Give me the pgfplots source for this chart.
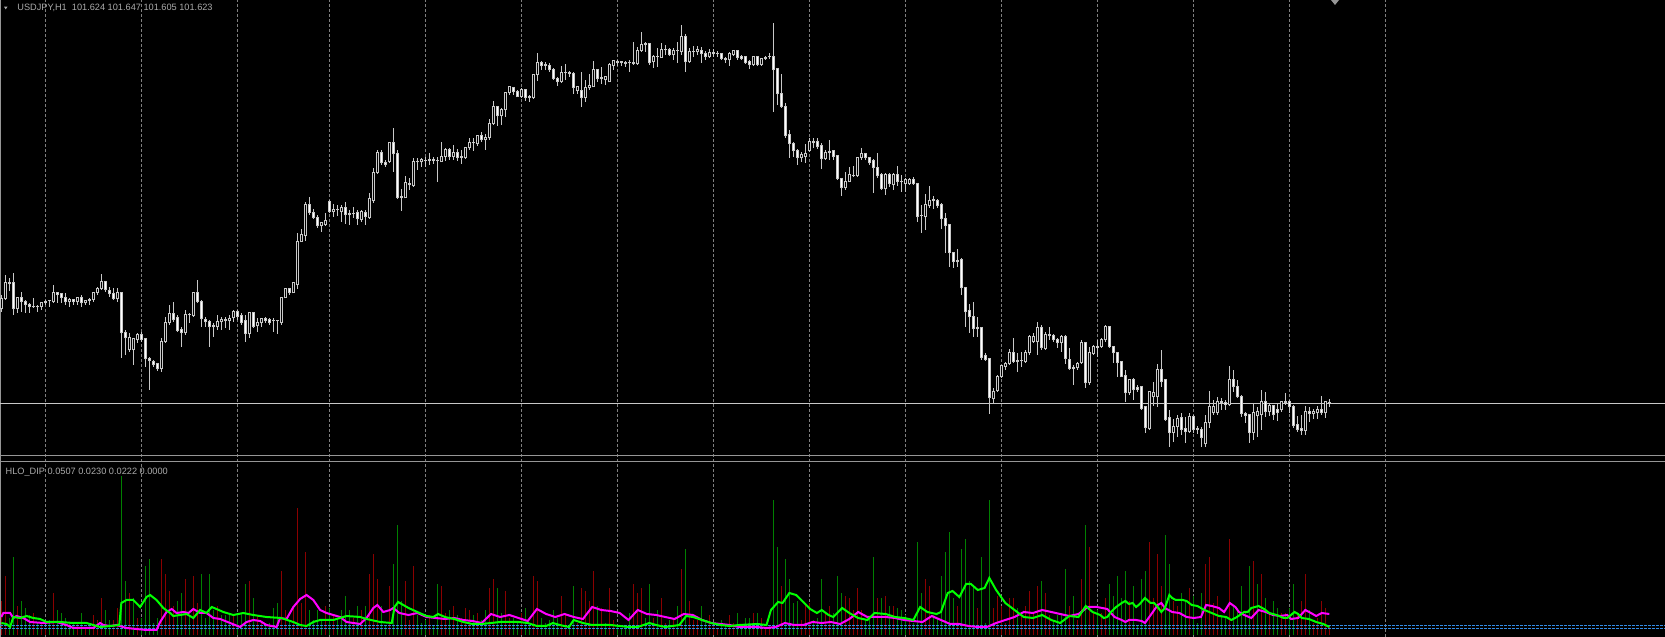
\documentclass[border=0pt]{standalone}
\usepackage{pgfplots}
\pgfplotsset{compat=1.18}
\usepackage{pgfplotstable}
\usepackage{fontspec}
\setmainfont{Liberation Sans}
\definecolor{wickc}{RGB}{200,200,200}
\definecolor{bodyw}{RGB}{255,255,255}
\definecolor{gridc}{RGB}{128,128,128}
\definecolor{sepc}{RGB}{150,150,150}
\definecolor{txtc}{RGB}{170,170,170}
\definecolor{histg}{RGB}{0,128,0}
\definecolor{histr}{RGB}{139,0,0}
\definecolor{lgreen}{RGB}{0,255,0}
\definecolor{lmag}{RGB}{255,0,255}
\definecolor{lvl}{RGB}{51,140,230}

% candles: bar index, open, high, low, close (depth below the top of the price pane, in pixels)
\pgfplotstableread{
i o h l c
0 309 295 312 299
1 299 275 300 283
2 284 278 291 283
3 283 273 315 309
4 309 297 313 298
5 298 292 312 302
6 302 300 313 305
7 305 303 313 307
8 307 298 308 307
9 307 305 312 307
10 307 302 310 303
11 303 300 305 302
12 301 300 307 301
13 302 285 303 293
14 293 293 303 295
15 294 293 303 298
16 298 293 305 302
17 302 298 307 300
18 300 299 305 302
19 302 297 305 298
20 298 295 307 303
21 303 300 305 301
22 301 298 305 300
23 300 292 302 293
24 293 287 295 289
25 289 274 290 282
26 282 281 292 290
27 291 287 297 294
28 294 288 300 299
29 299 288 302 293
30 293 293 358 333
31 333 330 355 338
32 350 333 352 338
33 350 338 365 339
34 340 333 343 335
35 335 332 342 340
36 339 338 367 359
37 359 357 390 361
38 362 360 367 365
39 364 363 371 369
40 369 338 372 342
41 342 317 343 323
42 323 305 325 314
43 314 302 322 320
44 318 315 332 331
45 330 327 347 333
46 333 310 335 315
47 315 313 323 315
48 316 292 317 293
49 293 280 303 302
50 302 300 327 319
51 320 317 327 322
52 322 320 347 327
53 327 323 337 326
54 327 315 330 322
55 322 317 330 320
56 320 317 328 321
57 321 315 330 319
58 318 310 322 312
59 312 310 320 317
60 316 313 325 323
61 321 315 342 334
62 334 312 338 313
63 313 312 328 327
64 326 318 332 323
65 323 318 327 319
66 319 317 323 321
67 320 318 325 323
68 321 318 332 321
69 321 320 334 321
70 323 297 325 298
71 298 288 298 289
72 289 288 295 293
73 293 282 293 283
74 285 233 289 242
75 242 229 242 235
76 236 202 241 205
77 205 197 215 213
78 213 209 219 218
79 218 215 228 226
80 226 222 232 223
81 225 213 226 221
82 202 200 213 212
83 212 204 217 210
84 210 205 216 210
85 212 205 222 208
86 208 202 224 215
87 215 210 225 214
88 214 207 218 214
89 213 210 225 219
90 220 210 222 212
91 213 210 225 217
92 218 193 219 199
93 201 168 203 173
94 173 150 174 153
95 153 150 165 163
96 163 160 167 165
97 162 142 163 143
98 143 128 172 154
99 154 150 199 198
100 197 189 211 198
101 198 176 198 183
102 184 178 190 185
103 186 158 187 162
104 162 158 170 162
105 162 158 167 160
106 161 157 167 161
107 161 153 165 160
108 160 157 164 161
109 161 157 182 161
110 162 142 162 157
111 157 148 161 150
112 150 148 160 157
113 157 145 160 153
114 153 149 161 158
115 157 150 164 158
116 158 147 159 148
117 148 138 150 143
118 143 138 151 143
119 144 135 146 136
120 136 132 142 140
121 140 134 150 138
122 138 119 140 124
123 124 101 125 107
124 107 106 126 116
125 116 108 125 110
126 110 92 117 93
127 93 86 95 87
128 88 87 95 92
129 92 90 97 97
130 97 88 98 90
131 90 89 101 98
132 98 95 102 97
133 98 74 99 75
134 75 53 81 63
135 63 61 70 66
136 65 62 70 66
137 66 63 72 70
138 70 68 80 79
139 79 77 86 82
140 82 66 83 73
141 73 64 80 73
142 73 71 77 74
143 74 72 94 88
144 91 86 94 87
145 91 72 107 98
146 98 80 102 88
147 88 74 90 86
148 87 61 87 70
149 70 69 82 79
150 78 67 84 79
151 80 76 85 77
152 82 63 82 65
153 66 60 70 61
154 62 60 66 63
155 63 61 66 62
156 63 61 67 64
157 63 60 72 63
158 63 42 65 64
159 64 47 65 51
160 51 32 52 45
161 45 42 52 44
162 44 43 65 63
163 62 55 68 57
164 57 48 67 57
165 58 43 58 50
166 50 45 55 50
167 50 48 56 55
168 55 48 60 51
169 51 42 63 51
170 52 25 55 37
171 37 34 72 62
172 62 48 63 52
173 52 46 57 52
174 52 46 55 50
175 51 47 63 54
176 54 51 60 57
177 57 49 58 53
178 53 49 57 54
179 54 51 57 54
180 54 53 60 59
181 59 57 63 60
182 60 52 66 54
183 55 50 56 51
184 51 50 60 58
185 57 55 60 59
186 57 56 64 63
187 62 60 69 65
188 65 56 66 57
189 57 56 66 65
190 65 58 66 59
191 59 56 60 58
192 57 53 59 57
193 57 23 112 70
194 69 69 105 94
195 94 74 108 107
196 107 103 138 136
197 135 130 158 144
198 144 142 157 151
199 151 149 165 158
200 158 152 162 155
201 157 144 163 154
202 151 138 152 142
203 142 138 148 143
204 142 138 149 147
205 146 143 169 159
206 159 150 160 153
207 152 140 160 153
208 151 150 160 157
209 156 155 180 179
210 179 178 196 188
211 188 172 190 182
212 182 167 182 175
213 176 166 177 176
214 176 157 177 158
215 158 148 160 154
216 154 153 160 158
217 158 157 165 163
218 161 159 193 168
219 168 153 178 176
220 175 173 190 189
221 189 173 195 175
222 175 173 187 184
223 185 173 190 175
224 175 166 186 182
225 182 175 192 182
226 184 178 192 180
227 184 178 185 180
228 180 177 185 184
229 184 183 222 217
230 216 205 233 216
231 217 194 230 205
232 206 186 208 201
233 201 196 209 200
234 201 199 208 206
235 205 203 229 219
236 219 213 253 226
237 225 225 267 253
238 253 252 268 262
239 261 249 267 262
240 260 258 295 288
241 288 288 327 312
242 311 304 333 317
243 317 302 337 329
244 328 317 337 329
245 328 327 360 358
246 356 353 361 360
247 359 358 414 398
248 399 388 403 392
249 391 375 392 377
250 377 365 378 366
251 367 362 370 364
252 364 349 365 353
253 353 338 363 362
254 361 353 372 362
255 361 352 367 361
256 362 350 363 353
257 353 335 355 337
258 342 333 343 337
259 342 322 355 328
260 328 325 350 348
261 349 332 350 335
262 335 327 340 336
263 336 334 342 340
264 340 338 348 343
265 343 335 352 337
266 337 335 364 359
267 360 348 370 369
268 369 365 385 368
269 368 362 370 364
270 363 340 364 343
271 343 342 388 383
272 383 347 385 353
273 354 345 355 347
274 347 340 357 348
275 347 338 348 340
276 340 325 342 327
277 327 326 348 347
278 347 346 363 353
279 353 352 377 363
280 362 361 377 377
281 376 370 402 393
282 393 379 395 380
283 380 378 400 390
284 388 385 392 390
285 387 387 410 409
286 407 406 433 428
287 429 391 430 392
288 397 382 406 393
289 397 364 407 370
290 370 350 387 382
291 380 380 421 420
292 418 410 447 433
293 433 419 442 427
294 427 415 437 419
295 418 413 435 430
296 429 417 443 432
297 432 413 433 417
298 417 415 433 430
299 429 426 434 430
300 430 427 447 438
301 444 415 447 423
302 423 391 428 407
303 413 400 415 407
304 413 397 415 402
305 402 398 410 403
306 403 400 410 405
307 405 366 406 380
308 380 370 392 387
309 387 380 398 397
310 397 395 417 414
311 414 412 423 416
312 415 415 443 433
313 433 403 440 413
314 416 407 437 412
315 415 390 430 402
316 402 392 417 412
317 412 403 416 406
318 406 405 420 415
319 410 403 421 413
320 410 401 412 402
321 402 393 405 403
322 402 400 413 407
323 407 405 428 426
324 425 416 432 430
325 429 415 435 431
326 431 406 435 412
327 412 407 422 414
328 414 409 419 412
329 413 406 419 410
330 410 396 415 413
331 413 402 418 402
332 403 399 407 403
}\bars

% indicator lines (bar index, height above the histogram base)
\pgfplotstableread{
i v
0 12
1.3 11
2.2 8
3 18
4.7 17
6.3 19
8 17
9.7 16
11.3 13
14.7 13
18 12
21.3 12
23 10
24.7 8
27.2 9
29.5 10
30 32
31.3 35
33 35
34.7 28
36.3 38
37.2 40
38.8 35
40.5 27
42.2 22
43 19
46.3 21
48 17
49.7 25
51.3 22
52.6 28
53.8 26
55.5 23
58 20
60.5 22
63 20
66.3 18
70 17
73 13
74.7 10
76.3 9
78 13
79.7 15
83 15
86.3 19
89.7 18
91.3 16
94.7 13
97.6 12
98.3 28
99.2 33
101.8 27
104 23
106.3 19
108 18
109.2 21
110.9 18
113.2 16
115.5 13
117.8 11
120.1 11
124.7 13
129.3 13
131.6 12
133.9 9
136.2 9
137.9 12
139.6 10
141.9 8
143.1 15
145.4 12
147.7 10
152.3 10
154.6 9
156.8 8
159.1 8
162 12
163.7 10
166 8
169.5 10
171.2 19
172.9 18
175.2 15
177.5 12
179.8 10
182.1 9
184.4 10
189 11
191.3 10
192.4 25
194.2 33
195.3 32
197 42
198.7 40
200.5 33
202.2 26
203.9 22
205.1 25
206.8 20
208 18
210.2 27
212 22
214.2 17
216.5 15
218.3 22
221.1 21
223.4 18
225.7 17
228 15
229.7 28
231.5 23
233.8 21
234.9 23
236.6 42
237.8 44
239.5 38
241.2 51
242.4 51
244.1 45
245.8 47
247 57
248.7 45
251 32
253.3 25
255.6 18
257.9 17
260.2 20
262.5 15
264.7 12
267 19
269.3 18
271.1 29
272.8 23
274.7 20
275.6 17
276.5 18
277.4 23
278.7 28
280.1 32
281 34
281.9 31
282.8 32
283.7 28
284.6 31
285.9 37
287.3 32
288.2 32
289.1 28
290 23
290.9 27
292 40
292.7 37
293.6 35
295.4 35
296.3 34
297.6 30
299 29
300.8 25
302.6 22
304.4 19
306.2 18
307.5 15
308.9 18
310.7 23
311.6 23
312.5 27
313.4 28
314.3 29
315.7 26
317 22
318.8 20
320.6 17
321.5 17
323.3 23
324.2 21
325.1 17
326.9 16
328.7 13
330.5 11
332 8
}\gline

\pgfplotstableread{
i v
0 18
0.5 22
2.2 22
3 17
3.8 19
5.5 17
7.2 13
10.5 12
13.8 13
16.3 10
18 7
23 7
24.7 12
25.5 10
27.2 9
28.8 10
31.3 7
36.3 5
38.8 5
39.7 13
41.3 23
42.6 26
43.8 22
45.5 23
46.8 22
48 26
49.7 22
51.3 22
53 17
54.7 16
57.2 12
59.7 8
61.3 13
63 15
64.7 14
66.3 10
68.8 8
69.7 17
71.3 16
73 28
74.7 36
76.3 40
78 35
79.7 25
81.3 22
83 20
84.7 18
86.3 13
89.7 11
91.3 17
93 27
94 30
95.5 23
97.2 25
98 27
99.5 22
101.8 20
104 22
106.3 18
108.6 17
110.9 16
113.2 17
115.5 15
117.8 14
120.1 12
122.4 21
124.7 18
127 20
129.3 17
131.6 14
133.9 26
136.2 21
138.5 18
140.8 21
143.1 18
145.4 16
147.7 28
150 25
152.3 24
154.6 22
156.8 15
159.1 25
161.4 21
163.7 20
166 18
168.3 16
170.6 21
172.9 20
175.2 15
177.5 12
179.8 11
182.1 10
184.4 8
186.7 8
189 8
191.3 7
193.6 8
195.9 12
198.2 10
200.5 10
202.8 13
205.1 12
207.4 13
209.7 11
212 16
214.2 23
216.5 18
218.8 18
221.1 18
223.4 17
225.7 15
228 14
230.3 13
232.6 19
234.9 15
237.2 11
239.5 11
241.8 9
244.1 8
246.4 8
248.7 12
251 15
253.3 18
255.6 23
257.9 22
260.2 25
262.5 23
264.7 21
267 19
269.3 21
271.6 28
273.9 28
276.5 26
277.4 22
278.3 18
280.1 15
281 13
281.9 15
283.7 15
285.1 14
285.9 12
286.8 17
287.7 22
289.1 30
290 32
290.9 27
291.8 25
292.7 23
294.5 22
296.3 18
298.1 17
299.9 18
301.2 30
302.6 29
304.4 27
305.7 23
307.1 32
308.5 28
309.4 23
310.7 20
312.5 17
314.3 25
316.1 23
317.9 20
319.7 19
321.5 20
322.4 16
324.2 17
326 25
327.4 22
328.7 19
330.1 22
332 21
}\mline

\begin{document}
\begin{tikzpicture}[x=1pt,y=1pt]
\fill[black] (0,0) rectangle (832.5,318.5);
% day separators (grid)
\foreach \gx in {22.67,70.67,118.67,164.67,212.67,260.67,308.67,356.67,404.67,452.67,500.67,548.67,596.67,644.67,692.67}
  \draw[gridc, line width=0.5pt, dash pattern=on 1.5pt off 1pt] (\gx,0) -- (\gx,318.5);
% pane borders
\draw[sepc, line width=0.5pt] (0,90.75) -- (832.5,90.75);
\draw[sepc, line width=0.5pt] (0,87.75) -- (832.5,87.75);
\draw[sepc, line width=0.5pt] (0.25,0) -- (0.25,318.5);
% bid line
\draw[wickc, line width=0.5pt] (0,116.75) -- (832.5,116.75);

% one axis over the whole window; vertical unit = one screen pixel, 0 at the top
\begin{axis}[at={(0pt,0pt)}, anchor=south west, scale only axis,
  width=832.5pt, height=318.5pt,
  xmin=-0.3325, xmax=415.9175, ymin=-637, ymax=0,
  hide axis]
  % ---- price pane ----
  % wicks
  \addplot[draw=none, mark=none, error bars/.cd, y dir=plus, y explicit, error mark=none,
    error bar style={draw=wickc, line width=0.5pt}]
    table[x=i, y expr={-\thisrow{l}}, y error plus expr={\thisrow{l}-\thisrow{h}}] {\bars};
  % bodies (outline)
  \addplot[draw=none, mark=none, error bars/.cd, y dir=plus, y explicit, error mark=none,
    error bar style={draw=wickc, line width=1.5pt}]
    table[x=i, y expr={-max(\thisrow{o},\thisrow{c})-0.5}, y error plus expr={abs(\thisrow{o}-\thisrow{c})+1}] {\bars};
  % bearish bodies: white fill
  \addplot[draw=none, mark=none, error bars/.cd, y dir=plus, y explicit, error mark=none,
    error bar style={draw=bodyw, line width=0.5pt}]
    table[x=i, y expr={-\thisrow{c}+0.5}, y error plus expr={max(\thisrow{c}-\thisrow{o}-1,0)}] {\bars};
  % bullish bodies: hollow
  \addplot[draw=none, mark=none, error bars/.cd, y dir=plus, y explicit, error mark=none,
    error bar style={draw=black, line width=0.5pt}]
    table[x=i, y expr={-\thisrow{o}+0.5}, y error plus expr={max(\thisrow{o}-\thisrow{c}-1,0)}] {\bars};
  % ---- HLO_DIP pane (base at pixel row 635) ----
  % rise above the open (red) when it dominates
  \addplot[draw=none, mark=none, error bars/.cd, y dir=plus, y explicit, error mark=none,
    error bar style={draw=histr, line width=0.5pt}]
    table[x=i, y expr={-635}, y error plus expr={2.45*(\thisrow{o}-\thisrow{h})*((\thisrow{o}-\thisrow{h})>=(\thisrow{l}-\thisrow{o}))}] {\bars};
  % dip below the open (green) when it dominates
  \addplot[draw=none, mark=none, error bars/.cd, y dir=plus, y explicit, error mark=none,
    error bar style={draw=histg, line width=0.5pt}]
    table[x=i, y expr={-635}, y error plus expr={2.45*(\thisrow{l}-\thisrow{o})*((\thisrow{l}-\thisrow{o})>(\thisrow{o}-\thisrow{h}))}] {\bars};
  \addplot[lvl, line width=0.6pt, dash pattern=on 1.35pt off 0.65pt] coordinates {(-0.3325,-625.5) (415.9175,-625.5)};
  \addplot[lvl, line width=0.6pt, dash pattern=on 1.35pt off 0.65pt] coordinates {(-0.3325,-628.7) (415.9175,-628.7)};
  \addplot[lmag, line width=1pt, mark=none] table[x=i, y expr={\thisrow{v}-635}] {\mline};
  \addplot[lgreen, line width=1pt, mark=none] table[x=i, y expr={\thisrow{v}-635}] {\gline};
\end{axis}

% labels
\fill[txtc] (2,315.15) -- (3.75,315.15) -- (2.875,313.85) -- cycle;
\node[anchor=base west, inner sep=0pt, text=txtc, font=\fontsize{4.6pt}{5.5pt}\selectfont] at (8.5,313) {USDJPY,H1\ \ 101.624 101.647 101.605 101.623};
\node[anchor=base west, inner sep=0pt, text=txtc, font=\fontsize{4.6pt}{5.5pt}\selectfont] at (2.65,81.4) {HLO\_DIP 0.0507 0.0230 0.0222 0.0000};
\fill[sepc] (665.5,318.5) -- (669.5,318.5) -- (667.5,316) -- cycle;
\pgfresetboundingbox
\path[use as bounding box] (0,0) rectangle (832.5,318.5);
\end{tikzpicture}
\end{document}
